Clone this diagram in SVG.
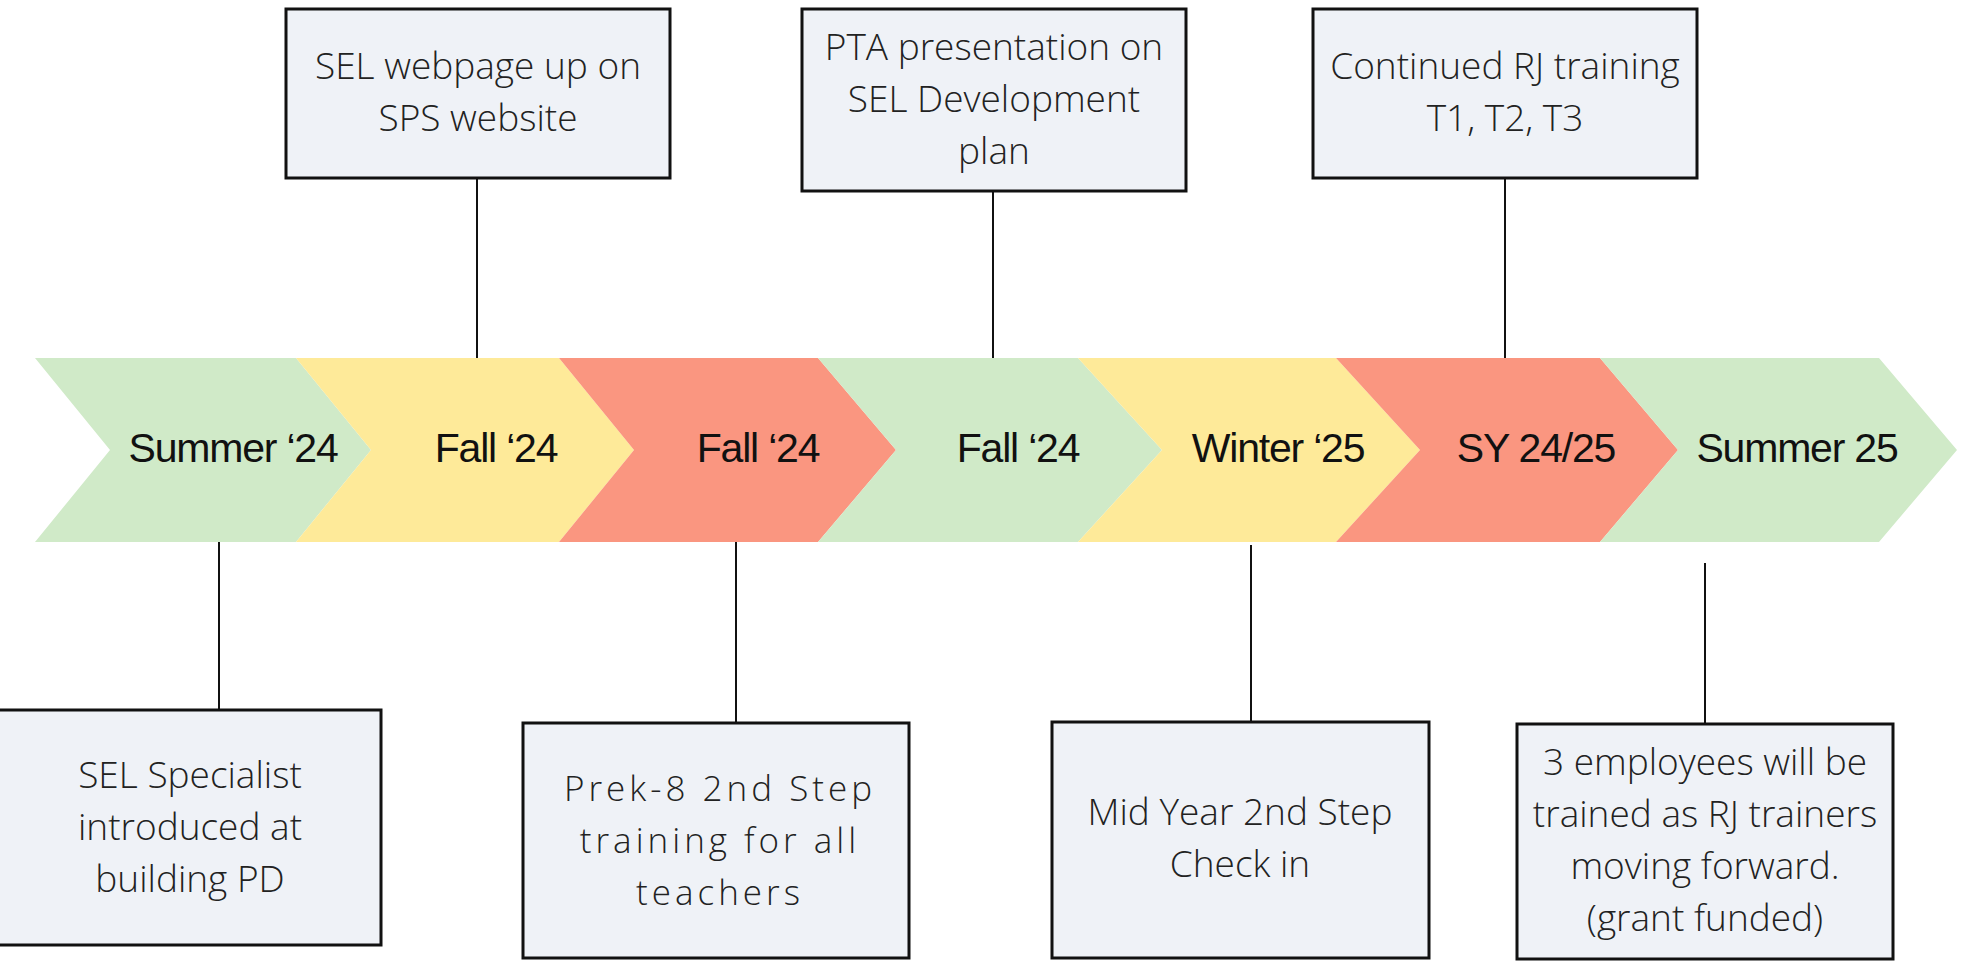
<svg xmlns="http://www.w3.org/2000/svg" width="1966" height="962" viewBox="0 0 1966 962">
<style>
.bg{fill:#ffffff}
.g{fill:#D0EAC8}
.y{fill:#FEEA99}
.r{fill:#FA9680}
.lbl{font-family:"Liberation Sans",Arial,sans-serif;font-size:41px;letter-spacing:-1.2px;fill:#111;text-anchor:middle}
.box{fill:#EFF2F7;stroke:#111;stroke-width:3}
.bt{font-family:"Open Sans","Liberation Sans",sans-serif;font-weight:300;font-size:37px;fill:#222;text-anchor:middle}
.wide{font-size:35px;letter-spacing:4px}
.conn line{stroke:#111;stroke-width:2}
</style>
<rect class="bg" x="0" y="0" width="1966" height="962"/>
<g id="timeline">
  <g id="stage1"><polygon class="g" points="35,358 296,358 371,450 296,542 35,542 110,450"/><text class="lbl" x="233" y="462">Summer ‘24</text></g>
  <g id="stage2"><polygon class="y" points="296,358 559,358 634,450 559,542 296,542 371,450"/><text class="lbl" x="496" y="462">Fall ‘24</text></g>
  <g id="stage3"><polygon class="r" points="559,358 818,358 896,450 818,542 559,542 634,450"/><text class="lbl" x="758" y="462">Fall ‘24</text></g>
  <g id="stage4"><polygon class="g" points="818,358 1078,358 1162,450 1078,542 818,542 896,450"/><text class="lbl" x="1018" y="462">Fall ‘24</text></g>
  <g id="stage5"><polygon class="y" points="1078,358 1336,358 1420,450 1336,542 1078,542 1162,450"/><text class="lbl" x="1278" y="462">Winter ‘25</text></g>
  <g id="stage6"><polygon class="r" points="1336,358 1600,358 1678,450 1600,542 1336,542 1420,450"/><text class="lbl" x="1536" y="462">SY 24/25</text></g>
  <g id="stage7"><polygon class="g" points="1600,358 1879,358 1957,450 1879,542 1600,542 1678,450"/><text class="lbl" x="1797" y="462">Summer 25</text></g>
</g>
<g id="connectors" class="conn">
  <line x1="477" y1="178" x2="477" y2="358"/>
  <line x1="993" y1="191" x2="993" y2="358"/>
  <line x1="1505" y1="178" x2="1505" y2="358"/>
  <line x1="219" y1="542" x2="219" y2="710"/>
  <line x1="736" y1="542" x2="736" y2="723"/>
  <line x1="1251" y1="545" x2="1251" y2="722"/>
  <line x1="1705" y1="563" x2="1705" y2="724"/>
</g>
<g id="boxA"><rect class="box" x="286" y="9" width="384" height="169"/><text class="bt" x="478"><tspan x="478" y="79">SEL webpage up on</tspan><tspan x="478" y="131">SPS website</tspan></text></g>
<g id="boxB"><rect class="box" x="802" y="9" width="384" height="182"/><text class="bt"><tspan x="994" y="60">PTA presentation on</tspan><tspan x="994" y="112">SEL Development</tspan><tspan x="994" y="164">plan</tspan></text></g>
<g id="boxC"><rect class="box" x="1313" y="9" width="384" height="169"/><text class="bt"><tspan x="1505" y="79">Continued RJ training</tspan><tspan x="1505" y="131">T1, T2, T3</tspan></text></g>
<g id="boxD"><rect class="box" x="-2" y="710" width="383" height="235"/><text class="bt"><tspan x="190" y="788">SEL Specialist</tspan><tspan x="190" y="840">introduced at</tspan><tspan x="190" y="892">building PD</tspan></text></g>
<g id="boxE"><rect class="box" x="523" y="723" width="386" height="235"/><text class="bt wide"><tspan x="720" y="801">Prek-8 2nd Step</tspan><tspan x="720" y="853">training for all</tspan><tspan x="720" y="905">teachers</tspan></text></g>
<g id="boxF"><rect class="box" x="1052" y="722" width="377" height="236"/><text class="bt"><tspan x="1240" y="825">Mid Year 2nd Step</tspan><tspan x="1240" y="877">Check in</tspan></text></g>
<g id="boxG"><rect class="box" x="1517" y="724" width="376" height="235"/><text class="bt"><tspan x="1705" y="775">3 employees will be</tspan><tspan x="1705" y="827">trained as RJ trainers</tspan><tspan x="1705" y="879">moving forward.</tspan><tspan x="1705" y="931">(grant funded)</tspan></text></g>
</svg>
